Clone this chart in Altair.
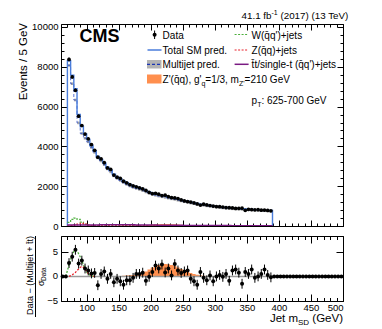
import altair as alt
import pandas as pd

FONT = "Liberation Sans"

# ---------------- histogram layout (GeV) ----------------
HIST_START = 70
BIN_W = 5
N_BINS = 64

# ---------------- main panel (events / 5 GeV) ----------------
data_counts = [
    8370, 7490, 6820, 5520, 5050, 4620, 4380, 4090,
    3800, 3460, 3370, 3180, 2920, 2840, 2560, 2450,
    2390, 2250, 2170, 2080, 2020, 1970, 1920, 1860,
    1790, 1690, 1630, 1640, 1600, 1530, 1550, 1470,
    1430, 1410, 1380, 1310, 1260, 1230, 1200, 1160,
    1110, 1050, 1095, 1060, 1030, 1000, 975, 970,
    950, 925, 920, 905, 880, 890, 895, 790,
    840, 825, 815, 820, 795, 800, 785, 760,
]
total_sm = [
    8300, 7580, 6900, 5600, 5000, 4620, 4350, 4030,
    3780, 3500, 3350, 3160, 2950, 2800, 2600, 2470,
    2370, 2260, 2170, 2090, 2020, 1960, 1910, 1850,
    1780, 1710, 1650, 1610, 1570, 1530, 1500, 1460,
    1420, 1390, 1350, 1310, 1270, 1240, 1200, 1170,
    1130, 1100, 1080, 1055, 1030, 1005, 985, 965,
    948, 930, 915, 900, 887, 875, 864, 853,
    843, 833, 823, 813, 803, 795, 787, 778,
]
multijet = [
    8070, 7150, 6330, 5180, 4650, 4410, 4230, 3945,
    3700, 3420, 3270, 3080, 2870, 2720, 2520, 2390,
    2290, 2180, 2090, 2010, 1940, 1885, 1835, 1775,
    1710, 1640, 1580, 1545, 1505, 1470, 1440, 1400,
    1365, 1335, 1295, 1260, 1220, 1190, 1152, 1122,
    1085, 1055, 1037, 1013, 990, 965, 946, 927,
    910, 893, 879, 865, 853, 842, 831, 821,
    812, 803, 793, 784, 775, 768, 761, 753,
]
w_jets = [
    180, 330, 400, 330, 190, 80, 35, 20,
    15, 14, 13, 12, 12, 11, 11, 10,
    10, 10, 9, 9, 9, 8, 8, 8,
    8, 7, 7, 7, 7, 7, 6, 6,
    6, 6, 6, 6, 5, 5, 5, 5,
    5, 5, 5, 4, 4, 4, 4, 4,
    4, 4, 4, 4, 3, 3, 3, 3,
    3, 3, 3, 3, 3, 3, 3, 3,
]
z_jets = [
    5, 20, 50, 100, 130, 90, 40, 15,
    8, 6, 5, 5, 5, 4, 4, 4,
    4, 4, 4, 3, 3, 3, 3, 3,
    3, 3, 3, 3, 3, 2, 2, 2,
    2, 2, 2, 2, 2, 2, 2, 2,
    2, 2, 2, 2, 2, 1, 1, 1,
    1, 1, 1, 1, 1, 1, 1, 1,
    1, 1, 1, 1, 1, 1, 1, 1,
]
ttbar = [
    45, 45, 50, 50, 50, 50, 50, 55,
    55, 55, 60, 60, 60, 62, 62, 62,
    62, 62, 60, 60, 58, 56, 54, 52,
    50, 48, 46, 44, 42, 40, 38, 36,
    35, 34, 33, 32, 31, 30, 29, 28,
    27, 26, 25, 24, 23, 22, 21, 20,
    20, 19, 19, 18, 18, 17, 17, 16,
    16, 15, 15, 15, 14, 14, 14, 13,
]
ZP_START = 140
zprime = [3, 5, 7, 9, 11, 12, 14, 18, 22, 30, 40, 55, 72, 85, 92, 96,
          98, 96, 90, 82, 70, 58, 46, 35, 27, 20, 14, 10, 6, 4, 2, 1]

# ---------------- ratio panel ----------------
ratio_data = [
    2.7, 4.0, 5.4, 2.6, 3.2, 1.6, 1.2, 0.6,
    0.7, -1.8, 0.5, 1.0, -0.5, 0.5, -1.2, -0.5,
    -1.0, -1.7, -0.8, -0.8, -0.3, 0.5, 0.5, 0.75,
    -0.9, -0.1, 0.9, 2.2, 1.6, 2.4, 0.8, 1.6,
    0.2, 2.5, 1.2, 0.7, 1.0, 1.2, -0.5, -1.0,
    -1.7, 0.9, -0.3, -0.8, 0.2, -1.0, 0.0, 0.3,
    -0.1, 0.5, -0.9, 1.2, 1.4, 0.75, -1.5, 0.9,
    0.5, 1.4, -0.3, 0.0, 0.5, 1.4, 0.3, -0.2,
]
empty_centers = [62.5, 67.5] + [392.5 + 5 * i for i in range(22)]
RW_START = 67.5
ratio_w = [0, 2.3, 4.3, 5.3, 4.6, 3.2, 1.5, 0.5, 0.15, 0]
RZ_START = 72.5
ratio_z = [0, 0.3, 0.8, 1.5, 2.0, 1.5, 0.6, 0.2, 0]
ratio_zp = [0.03, 0.05, 0.1, 0.15, 0.2, 0.25, 0.3, 0.4, 0.5, 0.7, 1.0, 1.4, 1.8, 2.1, 2.3, 2.45,
            2.5, 2.45, 2.3, 2.1, 1.8, 1.5, 1.2, 0.9, 0.7, 0.5, 0.35, 0.25, 0.15, 0.1, 0.05, 0.02]

# ---------------- ticks ----------------
x_major = [100, 150, 200, 250, 300, 350, 400, 450, 500]
x_minor = list(range(60, 501, 10))
y_top_major = [0, 2000, 4000, 6000, 8000, 10000]
y_top_minor = list(range(0, 10001, 400))
y_low_major = [-5, 0, 5]
y_low_labels = ["\u22125", "0", "5"]

# ---------------- colours ----------------
C_BLUE = "#4a7ddb"
C_MJ = "#3552c8"
C_GREEN = "#4caf3c"
C_RED = "#e8212a"
C_PURPLE = "#7a1a82"
C_ORANGE = "#ff6a13"
C_GRAY = "#9a9a9a"

W_TOP, H_TOP, H_LOW = 282, 202, 65

xs = alt.Scale(domain=[60, 500], nice=False, zero=False)
ys_top = alt.Scale(domain=[0, 10150], nice=False, zero=False)
ys_low = alt.Scale(domain=[-5, 8.2], nice=False, zero=False)

one = pd.DataFrame({"a": [0]})

# Arial / Liberation Sans advance widths (1/1000 em)
AW = {" ": 278, "'": 191, "(": 333, ")": 333, ",": 278, "-": 333, ".": 278, "/": 278, ":": 278,
      "=": 584, "+": 584, "0": 556, "1": 556, "2": 556, "3": 556, "4": 556, "5": 556, "6": 556,
      "7": 556, "8": 556, "9": 556, "D": 722, "G": 778, "J": 500, "M": 833, "S": 667, "T": 611,
      "V": 667, "W": 944, "Z": 611, "a": 556, "b": 556, "d": 556, "e": 556, "f": 278, "g": 556,
      "i": 222, "j": 222, "l": 222, "m": 833, "n": 556, "o": 556, "p": 556, "q": 556, "r": 333,
      "s": 500, "t": 278, "u": 556, "\u0304": 0}


def tw(s, size):
    return sum(AW.get(c, 556) for c in s) / 1000 * size


def ax(orient, values, size, labels=False, fs=9.5, pad=2):
    kw = dict(orient=orient, values=values, tickSize=size, offset=-size, domain=False,
              grid=False, labels=labels, title=None, ticks=True, tickColor="black", tickWidth=1)
    if labels:
        kw.update(labelFont=FONT, labelFontSize=fs, labelColor="black", labelPadding=pad,
                  format="d", labelOverlap=False)
    return alt.Axis(**kw)


def T(x, y, text, size=10, align="left", baseline="alphabetic", angle=0, bold=False,
      color="black"):
    kw = dict(text=text, font=FONT, fontSize=size, align=align, baseline=baseline, color=color)
    if angle:
        kw["angle"] = angle
    if bold:
        kw["fontWeight"] = "bold"
    return alt.Chart(one).mark_text(**kw).encode(x=alt.value(x), y=alt.value(y))


def chain(x, y, parts, right=False):
    total = sum(tw(t, s) for t, s, _ in parts)
    cx = x - total if right else x
    out = []
    for t, s, dy in parts:
        lead = len(t) - len(t.lstrip(" "))
        out.append(T(cx + tw(" " * lead, s), y + dy, t.lstrip(" "), s))
        cx += tw(t, s)
    return out


def step_df(start, vals, close_zero=False):
    e = [start + BIN_W * i for i in range(len(vals) + 1)]
    v = list(vals) + [vals[-1]]
    if close_zero:
        e = [start] + e
        v = [0] + list(vals) + [0]
    return pd.DataFrame({"x": e, "v": v, "i": list(range(len(e)))})


def step_line(df, color, yscale, dash=None, width=1.5, xaxis=None, yaxis=None):
    kw = dict(color=color, strokeWidth=width, interpolate="step-after", clip=True)
    if dash:
        kw["strokeDash"] = dash
    return alt.Chart(df).mark_line(**kw).encode(
        x=alt.X("x:Q", scale=xs, axis=xaxis),
        y=alt.Y("v:Q", scale=yscale, axis=yaxis),
        order="i:Q",
    )


centers = [HIST_START + BIN_W * (i + 0.5) for i in range(N_BINS)]

# ================= TOP PANEL =================
zp_area = alt.Chart(step_df(ZP_START, zprime)).mark_area(
    color=C_ORANGE, opacity=0.75, interpolate="step-after").encode(
    x=alt.X("x:Q", scale=xs, axis=ax("bottom", x_major, 6)),
    y=alt.Y("v:Q", scale=ys_top, axis=ax("left", y_top_major, 6, labels=True, pad=3)),
)
mj_pts = alt.Chart(pd.DataFrame({"x": centers, "v": multijet})).mark_point(
    shape="square", filled=True, color=C_GRAY, size=7, opacity=0.9).encode(
    x=alt.X("x:Q", scale=xs, axis=ax("top", x_major, 6)),
    y=alt.Y("v:Q", scale=ys_top, axis=ax("right", y_top_major, 6)),
)
mj_line = step_line(step_df(HIST_START, multijet), C_MJ, ys_top, dash=[3, 2], width=0.8,
                    xaxis=ax("bottom", x_minor, 3), yaxis=ax("left", y_top_minor, 3))
tot_line = step_line(step_df(HIST_START, total_sm, close_zero=True), C_BLUE, ys_top,
                     width=1.4,
                     xaxis=ax("top", x_minor, 3), yaxis=ax("right", y_top_minor, 3))
w_line = step_line(step_df(HIST_START, w_jets), C_GREEN, ys_top, dash=[2, 1.5], width=1.2)
z_line = step_line(step_df(HIST_START, z_jets), C_RED, ys_top, dash=[2, 1.5], width=1.2)
tt_line = step_line(step_df(HIST_START, ttbar), C_PURPLE, ys_top, width=1.5)

dmain = pd.DataFrame({"x": centers, "v": data_counts})
err_top = alt.Chart(dmain).transform_calculate(
    lo="datum.v - sqrt(datum.v)", hi="datum.v + sqrt(datum.v)").mark_rule(
    color="black", strokeWidth=1).encode(
    x=alt.X("x:Q", scale=xs, axis=None),
    y=alt.Y("lo:Q", scale=ys_top, axis=None), y2="hi:Q")
pts_top = alt.Chart(dmain).mark_circle(color="black", size=14, opacity=1).encode(
    x=alt.X("x:Q", scale=xs, axis=None), y=alt.Y("v:Q", scale=ys_top, axis=None))

# legend and labels (pixel positions inside the panel)
leg = []
leg.append(alt.Chart(one).mark_rule(color="black", strokeWidth=1).encode(
    x=alt.value(93.6), y=alt.value(6.5), y2=alt.value(15)))
leg.append(alt.Chart(one).mark_circle(color="black", size=16, opacity=1).encode(
    x=alt.value(93.6), y=alt.value(10.8)))
leg.append(alt.Chart(one).mark_rule(color=C_BLUE, strokeWidth=1.5).encode(
    x=alt.value(86.5), x2=alt.value(100.5), y=alt.value(26)))
leg.append(alt.Chart(one).mark_rect(color=C_GRAY, opacity=0.75).encode(
    x=alt.value(86), x2=alt.value(100.5), y=alt.value(36), y2=alt.value(44.5)))
leg.append(alt.Chart(one).mark_rule(color="#1b35b5", strokeWidth=1.3, strokeDash=[3, 2]).encode(
    x=alt.value(86), x2=alt.value(100.5), y=alt.value(40.3)))
leg.append(alt.Chart(one).mark_rect(color=C_ORANGE, opacity=0.75).encode(
    x=alt.value(86), x2=alt.value(100.5), y=alt.value(50.5), y2=alt.value(59.5)))
leg.append(alt.Chart(one).mark_rule(color=C_GREEN, strokeWidth=1.2, strokeDash=[2, 1.5]).encode(
    x=alt.value(173.6), x2=alt.value(187.6), y=alt.value(10.5)))
leg.append(alt.Chart(one).mark_rule(color=C_RED, strokeWidth=1.2, strokeDash=[2, 1.5]).encode(
    x=alt.value(173.6), x2=alt.value(187.6), y=alt.value(26)))
leg.append(alt.Chart(one).mark_rule(color=C_PURPLE, strokeWidth=1.5).encode(
    x=alt.value(173.6), x2=alt.value(187.6), y=alt.value(40.3)))

leg += [
    T(101.6, 14.5, "Data"),
    T(101.6, 29.5, "Total SM pred."),
    T(101.6, 44, "Multijet pred."),
    T(190.6, 14.5, "W(q\u0304q')+jets"),
    T(190.6, 29.5, "Z(q\u0304q)+jets"),
    T(190.6, 44, "t\u0304t/single-t (q\u0304q')+jets"),
]
leg += chain(101.6, 58.5, [("Z'(q\u0304q), g'", 10, 0), ("q", 7, 3), ("=1/3, m", 10, 0),
                           ("Z'", 7, 3), ("=210 GeV", 10, 0)])
leg += chain(190.6, 79.5, [("p", 10, 0), ("T", 7, 3), (": 625-700 GeV", 10, 0)])
leg.append(T(18.6, 17.7, "CMS", size=18, bold=True))
leg += chain(288.6, -5, [("41.1 fb", 9.8, 0), ("-1", 7, -4), (" (2017) (13 TeV)", 9.8, 0)],
             right=True)
leg.append(T(-37.4, -1, "Events / 5 GeV", size=11.5, align="right", baseline="middle",
             angle=270))

top = alt.layer(zp_area, mj_pts, mj_line, tot_line, w_line, z_line, tt_line,
                err_top, pts_top, *leg).resolve_axis(
    x="independent", y="independent").properties(width=W_TOP, height=H_TOP)

# ================= LOWER PANEL =================
zp_r = alt.Chart(step_df(ZP_START, ratio_zp)).mark_area(
    color=C_ORANGE, opacity=0.75, interpolate="step-after").encode(
    x=alt.X("x:Q", scale=xs, axis=ax("bottom", x_major, 7, labels=True, pad=1)),
    y=alt.Y("v:Q", scale=ys_low, axis=ax("left", y_low_major, 7)),
)
zero_df = pd.DataFrame({"x": [60, 500], "v": [0, 0]})
zero_line = alt.Chart(zero_df).mark_line(color=C_GRAY, strokeWidth=1.5).encode(
    x=alt.X("x:Q", scale=xs, axis=None),
    y=alt.Y("v:Q", scale=ys_low, axis=None))
rw = pd.DataFrame({"x": [RW_START + 5 * i for i in range(len(ratio_w))], "v": ratio_w})
w_r = alt.Chart(rw).mark_line(color=C_GREEN, strokeWidth=1.3, strokeDash=[2, 1.5],
                              interpolate="monotone").encode(
    x=alt.X("x:Q", scale=xs, axis=ax("bottom", x_minor, 3.5)),
    y=alt.Y("v:Q", scale=ys_low, axis=None))
rz = pd.DataFrame({"x": [RZ_START + 5 * i for i in range(len(ratio_z))], "v": ratio_z})
z_r = alt.Chart(rz).mark_line(color=C_RED, strokeWidth=1.3, strokeDash=[2, 1.5],
                              interpolate="monotone").encode(
    x=alt.X("x:Q", scale=xs, axis=ax("top", x_major, 7)),
    y=alt.Y("v:Q", scale=ys_low, axis=ax("right", y_low_major, 7)))
dr = pd.DataFrame({"x": centers, "v": ratio_data})
err_low = alt.Chart(dr).transform_calculate(lo="datum.v - 1", hi="datum.v + 1").mark_rule(
    color="black", strokeWidth=1).encode(
    x=alt.X("x:Q", scale=xs, axis=ax("top", x_minor, 3.5)),
    y=alt.Y("lo:Q", scale=ys_low, axis=None), y2="hi:Q")
dall = pd.DataFrame({"x": centers + empty_centers,
                     "v": ratio_data + [0] * len(empty_centers)})
pts_low = alt.Chart(dall).mark_circle(color="black", size=16, opacity=1).encode(
    x=alt.X("x:Q", scale=xs, axis=None), y=alt.Y("v:Q", scale=ys_low, axis=None))

# tick labels of the ratio axis, placed through the ratio scale
ylab = alt.Chart(pd.DataFrame({"v": y_low_major, "lab": y_low_labels})).mark_text(
    font=FONT, fontSize=9.5, align="right", baseline="middle", color="black").encode(
    x=alt.value(-3), y=alt.Y("v:Q", scale=ys_low, axis=None), text="lab:N")

lab = [ylab]
lab += chain(282, 86, [("Jet m", 11.5, 0), ("SD", 8, 3), (" (GeV)", 11.5, 0)], right=True)
lab.append(T(-31.4, 39.5, "Data \u2212 (Multijet + t\u0304t)", size=9, align="center",
             baseline="middle", angle=270))
lab.append(alt.Chart(one).mark_rule(color="black", strokeWidth=1).encode(
    x=alt.value(-25.5), y=alt.value(0), y2=alt.value(81)))
lab.append(T(-20.5, 50, "\u03c3", size=9, align="left", baseline="middle", angle=270))
lab.append(T(-17.5, 45, "Data", size=6.5, align="left", baseline="middle", angle=270))

low = alt.layer(zp_r, zero_line, w_r, z_r, err_low, pts_low, *lab).resolve_axis(
    x="independent", y="independent").properties(width=W_TOP, height=H_LOW)

chart = alt.vconcat(top, low, spacing=10, bounds="flush").properties(
    padding={"left": 9, "top": 0, "right": 5, "bottom": 2},
    background="white",
).configure_view(stroke="black", strokeWidth=1)

chart.save("out.html", embed_options={"renderer": "svg", "actions": False})
